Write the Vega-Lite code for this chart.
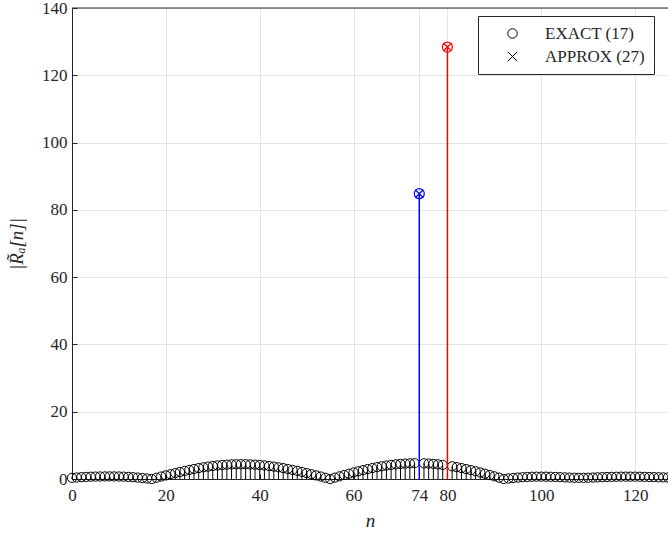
{
"$schema": "https://vega.github.io/schema/vega-lite/v6.json",
"width": 596, "height": 471,
"autosize": {"type": "none"},
"padding": {"left": 72, "top": 8, "right": 0, "bottom": 56},
"background": "white",
"config": {
  "view": {"stroke": null},
  "font": "Liberation Serif",
  "axis": {
    "domainColor": "#262626", "tickColor": "#262626", "labelColor": "#262626", "titleColor": "#262626",
    "gridColor": "#e3e3e3", "labelFontSize": 17, "labelFont": "Liberation Serif",
    "tickSize": -5, "labelFlush": false, "titleFont": "Liberation Serif", "titleFontSize": 19,
    "titleFontStyle": "italic", "titleFontWeight": "normal"
  },
  "legend": {
    "orient": "none", "legendX": 406, "legendY": 8, "title": null,
    "strokeColor": "#262626", "fillColor": "white", "padding": 9,
    "labelFontSize": 17, "labelFont": "Liberation Serif", "labelColor": "#262626",
    "symbolSize": 90, "symbolStrokeColor": "black", "symbolFillColor": "transparent",
    "symbolStrokeWidth": 1, "rowPadding": 5, "symbolOffset": 17, "labelOffset": 24
  }
},
"datasets": {
  "black": [
    {"n":0,"v":0.35},{"n":1,"v":0.45},{"n":2,"v":0.55},{"n":3,"v":0.62},{"n":4,"v":0.68},{"n":5,"v":0.72},{"n":6,"v":0.75},{"n":7,"v":0.77},{"n":8,"v":0.78},{"n":9,"v":0.77},{"n":10,"v":0.75},{"n":11,"v":0.70},{"n":12,"v":0.63},{"n":13,"v":0.54},{"n":14,"v":0.42},{"n":15,"v":0.29},{"n":16,"v":0.15},
    {"n":17,"v":0.0},{"n":18,"v":0.37},{"n":19,"v":0.73},{"n":20,"v":1.08},{"n":21,"v":1.43},{"n":22,"v":1.76},{"n":23,"v":2.09},{"n":24,"v":2.41},{"n":25,"v":2.70},{"n":26,"v":2.98},{"n":27,"v":3.24},{"n":28,"v":3.47},{"n":29,"v":3.68},{"n":30,"v":3.87},{"n":31,"v":4.03},{"n":32,"v":4.16},{"n":33,"v":4.26},{"n":34,"v":4.34},{"n":35,"v":4.39},{"n":36,"v":4.40},{"n":37,"v":4.39},{"n":38,"v":4.34},{"n":39,"v":4.26},{"n":40,"v":4.16},{"n":41,"v":4.03},{"n":42,"v":3.87},{"n":43,"v":3.68},{"n":44,"v":3.47},{"n":45,"v":3.24},{"n":46,"v":2.98},{"n":47,"v":2.70},{"n":48,"v":2.41},{"n":49,"v":2.09},{"n":50,"v":1.76},{"n":51,"v":1.43},{"n":52,"v":1.08},{"n":53,"v":0.73},{"n":54,"v":0.37},{"n":55,"v":0.0},
    {"n":56,"v":0.40},{"n":57,"v":0.79},{"n":58,"v":1.18},{"n":59,"v":1.57},{"n":60,"v":1.94},{"n":61,"v":2.29},{"n":62,"v":2.63},{"n":63,"v":2.95},{"n":64,"v":3.25},{"n":65,"v":3.53},{"n":66,"v":3.78},{"n":67,"v":4.00},{"n":68,"v":4.20},{"n":69,"v":4.36},{"n":70,"v":4.49},{"n":71,"v":4.59},{"n":72,"v":4.66},{"n":73,"v":4.70},{"n":75,"v":4.66},{"n":76,"v":4.59},{"n":77,"v":4.49},{"n":78,"v":4.36},{"n":79,"v":4.20},{"n":81,"v":3.78},{"n":82,"v":3.53},{"n":83,"v":3.25},{"n":84,"v":2.95},{"n":85,"v":2.63},{"n":86,"v":2.29},{"n":87,"v":1.94},{"n":88,"v":1.57},{"n":89,"v":1.18},{"n":90,"v":0.79},{"n":91,"v":0.40},{"n":92,"v":0.0},
    {"n":93,"v":0.15},{"n":94,"v":0.30},{"n":95,"v":0.43},{"n":96,"v":0.53},{"n":97,"v":0.61},{"n":98,"v":0.66},{"n":99,"v":0.69},{"n":100,"v":0.70},{"n":101,"v":0.69},{"n":102,"v":0.66},{"n":103,"v":0.61},{"n":104,"v":0.55},{"n":105,"v":0.48},{"n":106,"v":0.42},{"n":107,"v":0.37},{"n":108,"v":0.35},{"n":109,"v":0.35},{"n":110,"v":0.38},{"n":111,"v":0.43},{"n":112,"v":0.49},{"n":113,"v":0.55},{"n":114,"v":0.60},{"n":115,"v":0.64},{"n":116,"v":0.67},{"n":117,"v":0.69},{"n":118,"v":0.70},{"n":119,"v":0.70},{"n":120,"v":0.69},{"n":121,"v":0.67},{"n":122,"v":0.64},{"n":123,"v":0.60},{"n":124,"v":0.56},{"n":125,"v":0.52},{"n":126,"v":0.48},{"n":127,"v":0.45}
  ],
  "peaks": [
    {"n":74,"v":84.8,"c":"#0000ff"},
    {"n":80,"v":128.4,"c":"#ff0000"}
  ]
},
"layer": [
  {
    "data": {"name": "black"},
    "mark": {"type": "rule", "color": "black", "strokeWidth": 1},
    "encoding": {
      "x": {"field": "n", "type": "quantitative", "scale": {"domain": [0, 127], "nice": false},
            "axis": {"values": [0, 20, 40, 60, 74, 80, 100, 120], "title": "n", "labelPadding": 13, "titlePadding": 8}},
      "y": {"field": "v", "type": "quantitative", "scale": {"domain": [0, 140], "nice": false},
            "axis": {"values": [0, 20, 40, 60, 80, 100, 120, 140], "title": "|R̃ₐ[n]|", "labelPadding": 10, "titlePadding": 15}},
      "y2": {"datum": 0}
    }
  },
  {
    "data": {"name": "black"},
    "mark": {"type": "point", "filled": false, "stroke": "black", "strokeWidth": 1, "size": 85, "opacity": 1},
    "encoding": {
      "x": {"field": "n", "type": "quantitative"},
      "y": {"field": "v", "type": "quantitative"},
      "shape": {"datum": "EXACT (17)", "scale": {"domain": ["EXACT (17)", "APPROX (27)"], "range": ["circle", "M-1,-1L1,1M-1,1L1,-1"]}}
    }
  },
  {
    "data": {"name": "peaks"},
    "mark": {"type": "rule", "strokeWidth": 1.5},
    "encoding": {
      "x": {"field": "n", "type": "quantitative"},
      "y": {"field": "v", "type": "quantitative"},
      "y2": {"datum": 0},
      "color": {"field": "c", "type": "nominal", "scale": null}
    }
  },
  {
    "data": {"name": "peaks"},
    "mark": {"type": "point", "filled": false, "strokeWidth": 1.2, "size": 100, "opacity": 1},
    "encoding": {
      "x": {"field": "n", "type": "quantitative"},
      "y": {"field": "v", "type": "quantitative"},
      "stroke": {"field": "c", "type": "nominal", "scale": null},
      "shape": {"datum": "EXACT (17)"}
    }
  },
  {
    "data": {"name": "peaks"},
    "mark": {"type": "point", "filled": false, "strokeWidth": 1.2, "size": 64, "opacity": 1},
    "encoding": {
      "x": {"field": "n", "type": "quantitative"},
      "y": {"field": "v", "type": "quantitative"},
      "stroke": {"field": "c", "type": "nominal", "scale": null},
      "shape": {"datum": "APPROX (27)"}
    }
  },
  {
    "data": {"values": [{}]},
    "mark": {"type": "rule", "color": "#262626", "strokeWidth": 1},
    "encoding": {"y": {"datum": 140}}
  }
]
}
